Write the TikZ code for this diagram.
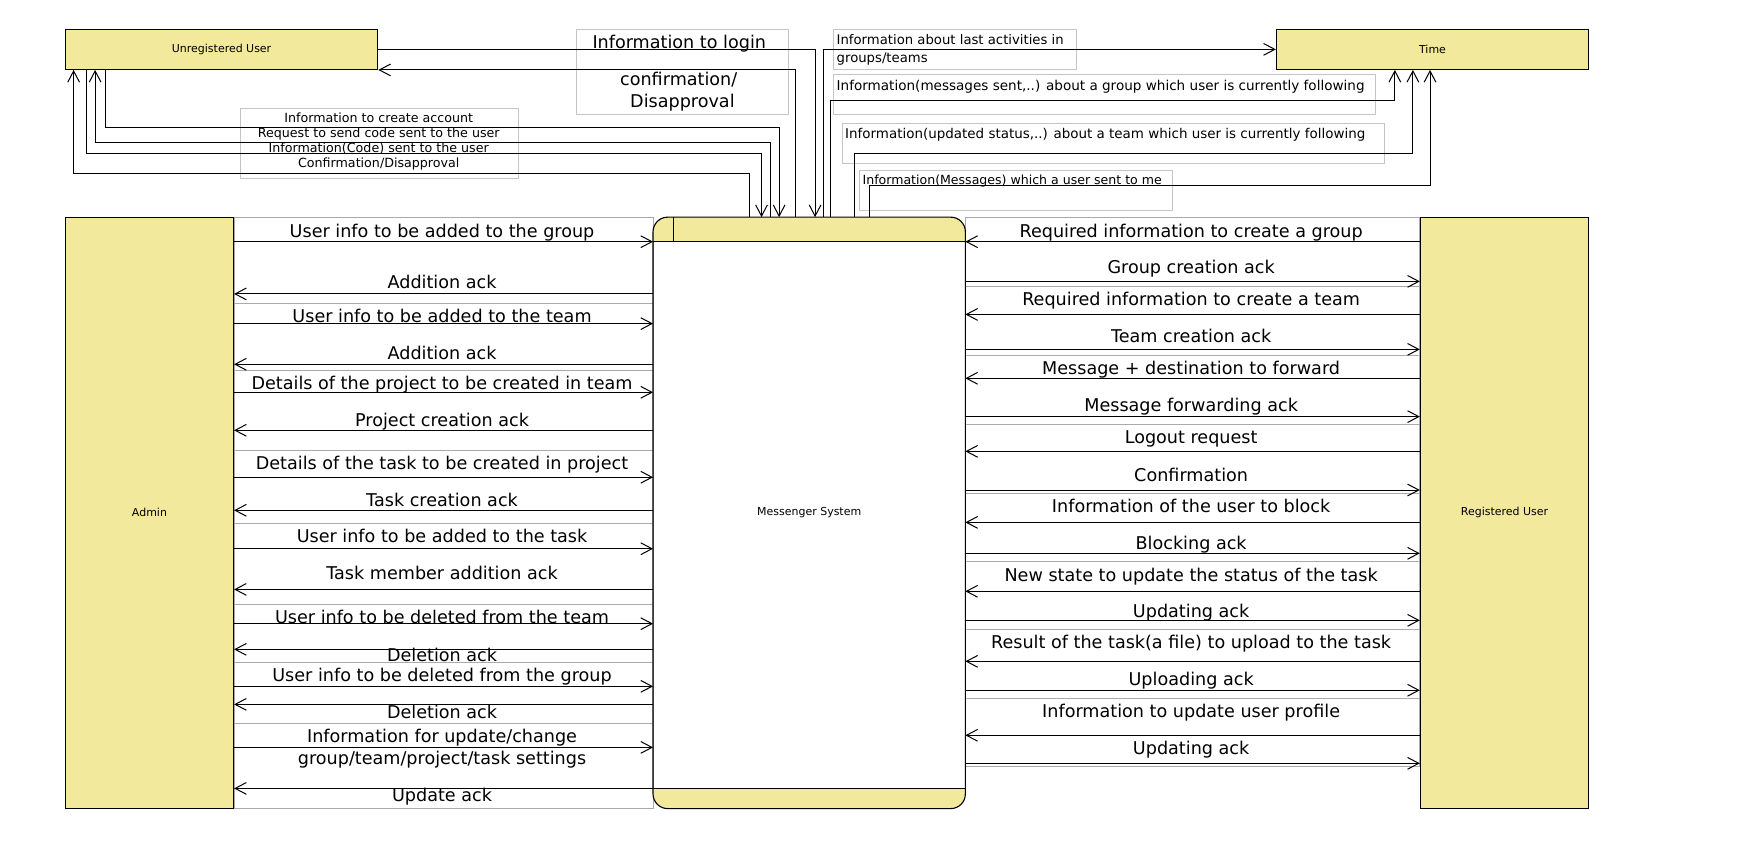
\documentclass[tikz,border=0pt]{standalone}
\usepackage{fontspec}
\setmainfont{DejaVu Sans}
\usetikzlibrary{arrows.meta,calc,backgrounds}
\definecolor{entfill}{RGB}{243,233,157}
\definecolor{sidegray}{RGB}{170,170,170}
\definecolor{topgray}{RGB}{196,196,196}
\begin{document}
\begin{tikzpicture}[x=1pt,y=-1pt,
  ent/.style={draw=black, line width=1pt, fill=entfill, inner sep=0pt, font=\fontsize{9.8}{12}\selectfont},
  flow/.style={line width=0.9pt, -{Straight Barb[length=10pt,width=10.5pt]}},
  big/.style={font=\fontsize{15.7}{19}\selectfont, inner sep=0pt, anchor=base, yshift=-5.3pt},
  sm/.style={inner sep=0pt, anchor=base, yshift=-4pt, font=\fontsize{11.3}{14}\selectfont},
  sml/.style={inner sep=0pt, anchor=base west, yshift=-4.2pt},
  lbl/.style={draw=sidegray, line width=0.8pt},
  tlbl/.style={draw=topgray, line width=0.8pt}]
\useasboundingbox (0,0) rectangle (1568,762);

% entities
\node[ent, minimum width=278.7pt, minimum height=35.7pt] (unreg) at (197.75,44.05) {Unregistered User};
\node[ent, minimum width=278.6pt, minimum height=35.7pt] (time) at (1278.4,44.05) {Time};
\node[ent, minimum width=150pt, minimum height=527.4pt] (admin) at (133.4,457.7) {Admin};
\node[ent, minimum width=150.2pt, minimum height=527.4pt] (reg) at (1342.7,457.7) {Registered User};

% process
\node[inner sep=0pt, minimum width=278.3pt, minimum height=527.4pt, font=\fontsize{9.8}{12}\selectfont] (msg) at (722.15,457.7) {Messenger System};
\begin{scope}
  \clip[rounded corners=13pt] (msg.north west) rectangle (msg.south east);
  \fill[entfill] (msg.north west) rectangle ($(msg.north east)+(0,21.4)$);
  \fill[entfill] ($(msg.south west)+(0,-17.9)$) rectangle (msg.south east);
\end{scope}
\draw[line width=1pt, rounded corners=13pt] (msg.north west) rectangle (msg.south east);
\draw[line width=1pt] ($(msg.north west)+(0,21.4)$) -- ($(msg.north east)+(0,21.4)$);
\draw[line width=1pt] ($(msg.south west)+(0,-17.9)$) -- ($(msg.south east)+(0,-17.9)$);
\draw[line width=1pt] ($(msg.north west)+(18,0)$) -- ($(msg.north west)+(18,21.4)$);

% label boxes (background)
\begin{scope}[on background layer]
  \foreach \a/\b in {194/270.7,270.7/330.5,330.5/401.9,401.9/467,467/539.3,539.3/591.1,591.1/645.5,645.5/721.4}{
    \path (0,\a) coordinate (ta) (0,\b) coordinate (tb);
    \draw[lbl] (admin.east |- ta) rectangle (msg.west |- tb);
  }
  \foreach \a/\b in {194/255.2,255.2/316.8,316.8/378.4,378.4/440.3,440.3/500.7,500.7/561.6,561.6/623.2,623.2/684.2}{
    \path (0,\a) coordinate (ta) (0,\b) coordinate (tb);
    \draw[lbl] (msg.east |- ta) rectangle (reg.west |- tb);
  }
  \draw[tlbl] (514.5,26.2) rectangle (703.7,102);
  \draw[tlbl] (743.6,26.2) rectangle (960.8,61.9);
  \draw[tlbl] (743.6,66.3) rectangle (1227.4,102);
  \draw[tlbl] (751.8,110) rectangle (1235.6,145.8);
  \draw[tlbl] (766.9,152.3) rectangle (1046.4,188);
  \draw[tlbl] (214.5,96.7) rectangle (462.8,159.1);
\end{scope}

% side flows
\foreach \y in {215.7,288.8,350.1,425.9,489.7,556.6,612.5,667}{
  \path (0,\y) coordinate (ty);
  \draw[flow] (admin.east |- ty) -- (msg.west |- ty);
}
\foreach \y in {262.3,325.1,384,455.4,526,579.5,628.6,703.6}{
  \path (0,\y) coordinate (ty);
  \draw[flow] (msg.west |- ty) -- (admin.east |- ty);
}
\foreach \y in {215.7,280.6,337.6,402.8,466.2,527.7,590.2,656.2}{
  \path (0,\y) coordinate (ty);
  \draw[flow] (reg.west |- ty) -- (msg.east |- ty);
}
\foreach \y in {251.1,311.8,371.8,437.3,493.8,553.6,616,681.2}{
  \path (0,\y) coordinate (ty);
  \draw[flow] (msg.east |- ty) -- (reg.west |- ty);
}

% side labels
\foreach \y/\t [count=\i] in {206.6/{User info to be added to the group},251.8/{Addition ack},282.6/{User info to be added to the team},315.9/{Addition ack},342.4/{Details of the project to be created in team},375.4/{Project creation ack},413.8/{Details of the task to be created in project},447/{Task creation ack},479/{User info to be added to the task},511.7/{Task member addition ack},551/{User info to be deleted from the team},584.6/{Deletion ack},603/{User info to be deleted from the group},636/{Deletion ack},657.4/{Information for update/change},677.3/{group/team/project/task settings},710.1/{Update ack}}{
  \node[big] (ll\i) at (394.5,\y) {\t};
}
\foreach \y/\t [count=\i] in {206.6/{Required information to create a group},239/{Group creation ack},267.1/{Required information to create a team},300.5/{Team creation ack},328.7/{Message + destination to forward},362/{Message forwarding ack},390.6/{Logout request},424/{Confirmation},452.2/{Information of the user to block},485.2/{Blocking ack},513.2/{New state to update the status of the task},545.9/{Updating ack},573.5/{Result of the task(a file) to upload to the task},606.9/{Uploading ack},635.1/{Information to update user profile},668.4/{Updating ack}}{
  \node[big] (rl\i) at (1063,\y) {\t};
}

% top attachment points
\coordinate (mF) at ($(msg.north west)+(85.8,0)$);
\coordinate (mE) at ($(msg.north west)+(96.8,0)$);
\coordinate (mD) at ($(msg.north west)+(104.6,0)$);
\coordinate (mC) at ($(msg.north west)+(112.5,0)$);
\coordinate (mB) at ($(msg.north west)+(126.9,0)$);
\coordinate (mA) at ($(msg.north west)+(144.6,0)$);
\coordinate (mG) at ($(msg.north west)+(152.4,0)$);
\coordinate (mH) at ($(msg.north west)+(158.6,0)$);
\coordinate (mI) at ($(msg.north west)+(179.8,0)$);
\coordinate (mJ) at ($(msg.north west)+(193.4,0)$);
\coordinate (uD) at ($(unreg.south west)+(7.8,0)$);
\coordinate (uC) at ($(unreg.south west)+(19.1,0)$);
\coordinate (uB) at ($(unreg.south west)+(27,0)$);
\coordinate (uA) at ($(unreg.south west)+(36.5,0)$);
\coordinate (tA) at ($(time.south west)+(106.2,0)$);
\coordinate (tB) at ($(time.south west)+(122.3,0)$);
\coordinate (tC) at ($(time.south west)+(137.6,0)$);

% top flows
\draw[flow] (unreg.east) -| (mA);
\draw[flow] (mB) |- (unreg.south east);
\draw[flow] (uA) -- ++(0,51.1) -| (mC);
\draw[flow] (mD) -- ++(0,-67) -| (uB);
\draw[flow] (uC) -- ++(0,74.9) -| (mE);
\draw[flow] (mF) -- ++(0,-38.7) -| (uD);
\draw[flow] (mG) |- (time.west);
\draw[flow] (mH) -- ++(0,-103.9) -| (tA);
\draw[flow] (mI) -- ++(0,-57.2) -| (tB);
\draw[flow] (mJ) -- ++(0,-28.3) -| (tC);

% top labels
\node[big] (tl1) at (606.2,38.1) {Information to login};
\node[big] (tl2) at (605.7,71.4) {confirmation/};
\node[big] (tl3) at (609,90.7) {Disapproval};
\node[sml, font=\fontsize{11.8}{14}\selectfont] (tl4) at (746.5,35.7) {Information about last activities in};
\node[sml, font=\fontsize{11.8}{14}\selectfont] (tl5) at (746.5,51.2) {groups/teams};
\node[sml, font=\fontsize{12.1}{14}\selectfont] (tl6) at (746.5,76.2) {Information(messages sent,..) about a group which user is currently following};
\node[sml, font=\fontsize{12.0}{14}\selectfont] (tl7) at (754.1,119.6) {Information(updated status,..) about a team which user is currently following};
\node[sml, font=\fontsize{11.2}{14}\selectfont] (tl8) at (769.6,160.7) {Information(Messages) which a user sent to me};
\node[sm] (tl9) at (338,105) {Information to create account};
\node[sm] (tl10) at (338,118.4) {Request to send code sent to the user};
\node[sm] (tl11) at (338,131.8) {Information(Code) sent to the user};
\node[sm] (tl12) at (338,145.2) {Confirmation/Disapproval};
\end{tikzpicture}
\end{document}
